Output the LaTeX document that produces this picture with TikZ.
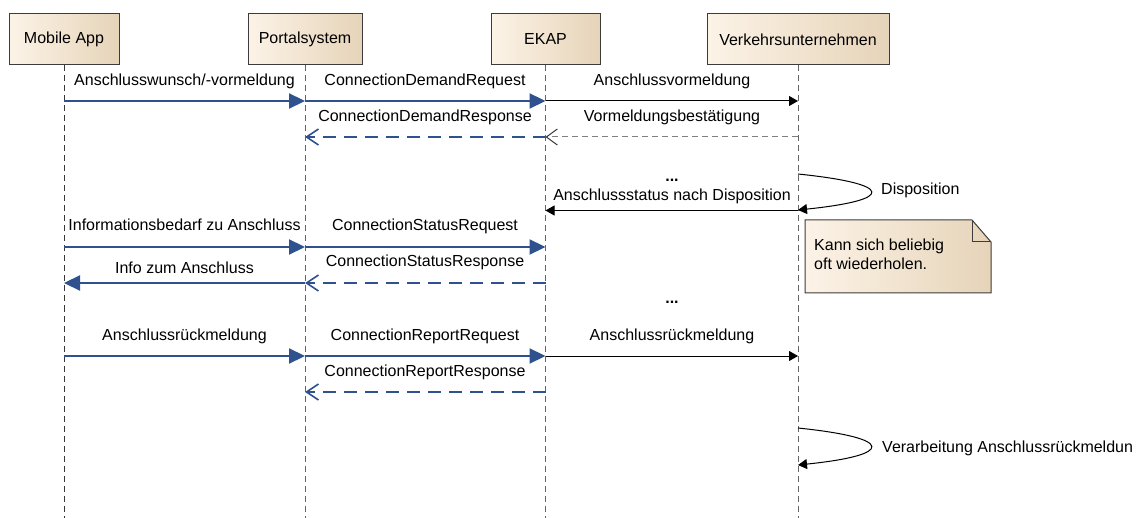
\documentclass[tikz,border=0pt]{standalone}
\usepackage{fontspec}
\setmainfont{Liberation Sans}
\usetikzlibrary{arrows.meta}
\definecolor{msgblue}{RGB}{47,82,143}
\definecolor{boxl}{RGB}{252,243,231}
\definecolor{boxr}{RGB}{230,212,185}
\definecolor{bordr}{RGB}{60,60,60}
\definecolor{lgray}{RGB}{100,100,100}
\definecolor{dgray}{RGB}{55,55,55}
\tikzset{
  part/.style={draw=bordr, line width=1pt, left color=boxl, right color=boxr, minimum height=51pt, inner sep=0pt},
  lifeline/.style={draw=lgray, line width=1pt, dash pattern=on 6pt off 4pt},
  lbl/.style={anchor=base, inner sep=0pt},
  dots/.style={anchor=base, inner sep=0pt, font=\fontsize{16}{19}\selectfont\bfseries},
  reqmsg/.style={draw=msgblue, line width=2.2pt, -{Triangle[length=16pt,width=15pt]}},
  respmsg/.style={draw=msgblue, line width=2.2pt, dash pattern=on 13pt off 8pt, -{Straight Barb[length=12pt,width=16pt,line width=1.6pt]}},
  blkmsg/.style={draw=black, line width=1pt, -{Triangle[length=9pt,width=10pt]}},
  grymsg/.style={draw=gray, line width=1pt, dash pattern=on 6pt off 4pt, -{Straight Barb[length=11pt,width=16pt,line width=1pt,color=dgray]}},
  notebox/.style={draw=bordr, line width=1pt, left color=boxl, right color=boxr},
}
\begin{document}
\begin{tikzpicture}[x=1pt,y=-1pt,font=\fontsize{16}{19}\selectfont]
\useasboundingbox (0,0) rectangle (1139,518);
% participants
\node[part, minimum width=110pt] (ma) at (64,39.5) {Mobile App};
\node[part, minimum width=114pt] (ps) at (305,39.5) {Portalsystem};
\node[part, minimum width=109pt] (ek) at (545.5,39.5) {EKAP};
\node[part, minimum width=182pt] (vu) at (798,39.5) {Verkehrsunternehmen};
% lifeline ends
\coordinate (maE) at (64,518);
\coordinate (psE) at (305,518);
\coordinate (ekE) at (545.5,518);
\coordinate (vuE) at (798,518);
\draw[lifeline, draw=dgray] (ma.south) -- (maE);
\draw[lifeline] (ps.south) -- (psE);
\draw[lifeline] (ek.south) -- (ekE);
\draw[lifeline] (vu.south) -- (vuE);

% note
\path[notebox] (805,220) -- (972,220) -- (991,242) -- (991,293) -- (805,293) -- cycle;
\draw[bordr, line width=1pt] (972,220) -- (972,242) -- (991,242);
\node[anchor=north west, inner sep=0pt, align=left] (note) at (814,239) {Kann sich beliebig\\oft wiederholen.};

% messages block 1
\draw[reqmsg] (ma |- 0,101) -- (ps |- 0,101);
\node[lbl] (l1) at (184.5,86) {Anschlusswunsch/-vormeldung};
\draw[reqmsg] (ps |- 0,101) -- (ek |- 0,101);
\node[lbl] (l2) at (425,86) {ConnectionDemandRequest};
\draw[blkmsg] (ek |- 0,101) -- (vu |- 0,101);
\node[lbl] (l3) at (672,86) {Anschlussvormeldung};
\draw[respmsg] (ek |- 0,137) -- (ps |- 0,137);
\node[lbl] (l4) at (425,121.5) {ConnectionDemandResponse};
\draw[grymsg] (vu |- 0,137) -- (ek |- 0,137);
\node[lbl] (l5) at (672,121.5) {Vormeldungsbestätigung};

% disposition
\node[dots] (d1) at (672,182) {...};
\draw[line width=1pt, -{Triangle[length=9pt,width=10pt]}] (vu |- 0,174) .. controls (895,184) and (895,200) .. (vu |- 0,210);
\node[anchor=base west, inner sep=0pt] (l6) at (881,195) {Disposition};
\draw[blkmsg] (vu |- 0,210.5) -- (ek |- 0,210.5);
\node[lbl] (l7) at (672,200.5) {Anschlussstatus nach Disposition};

% status
\draw[reqmsg] (ma |- 0,247) -- (ps |- 0,247);
\node[lbl] (l8) at (184.5,231) {Informationsbedarf zu Anschluss};
\draw[reqmsg] (ps |- 0,247) -- (ek |- 0,247);
\node[lbl] (l9) at (425,231) {ConnectionStatusRequest};
\draw[respmsg] (ek |- 0,283) -- (ps |- 0,283);
\node[lbl] (l10) at (425,267) {ConnectionStatusResponse};
\draw[reqmsg] (ps |- 0,283) -- (ma |- 0,283);
\node[lbl] (l11) at (184.5,274) {Info zum Anschluss};
\node[dots] (d2) at (672,304) {...};

% report
\draw[reqmsg] (ma |- 0,356) -- (ps |- 0,356);
\node[lbl] (l12) at (184.5,340) {Anschlussrückmeldung};
\draw[reqmsg] (ps |- 0,356) -- (ek |- 0,356);
\node[lbl] (l13) at (425,340) {ConnectionReportRequest};
\draw[blkmsg] (ek |- 0,356) -- (vu |- 0,356);
\node[lbl] (l14) at (672,340) {Anschlussrückmeldung};
\draw[respmsg] (ek |- 0,392) -- (ps |- 0,392);
\node[lbl] (l15) at (425,376) {ConnectionReportResponse};

% processing
\draw[line width=1pt, -{Triangle[length=9pt,width=10pt]}] (vu |- 0,428) .. controls (895,438) and (895,455) .. (vu |- 0,465);
\node[anchor=base west, inner sep=0pt] (l16) at (882,452) {Verarbeitung Anschlussrückmeldun};
\end{tikzpicture}
\end{document}
